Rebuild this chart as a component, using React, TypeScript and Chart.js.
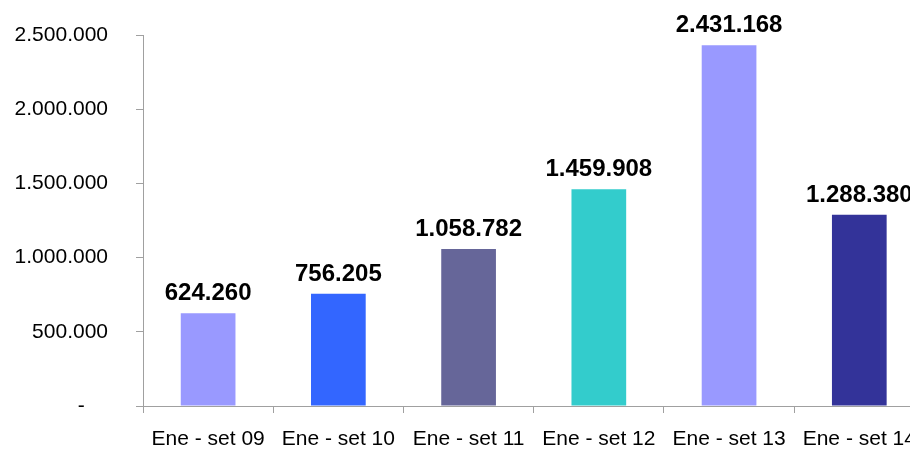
import React, { useEffect, useRef } from "react";
import { Chart, registerables } from "chart.js";

Chart.register(...registerables);

const categories = ["Ene - set 09", "Ene - set 10", "Ene - set 11", "Ene - set 12", "Ene - set 13", "Ene - set 14"];
const values = [624260, 756205, 1058782, 1459908, 2431168, 1288380];
const barColors = ["#9999FF", "#3366FF", "#666699", "#33CCCC", "#9999FF", "#333399"];
const yTicks = [0, 500000, 1000000, 1500000, 2000000, 2500000];

const W = 930;
const H = 449;
const FONT = "'Liberation Sans', Arial, sans-serif";
const AXIS_COLOR = "#a0a0a0";

function fmt(v: number): string {
  const s = Math.round(v).toString();
  return s.replace(/\B(?=(\d{3})+(?!\d))/g, ".");
}

const labelPlugin = {
  id: "barLabels",
  afterDatasetsDraw(chart: any) {
    const ctx = chart.ctx;
    const meta = chart.getDatasetMeta(0);
    ctx.save();
    ctx.font = `bold 24px ${FONT}`;
    ctx.fillStyle = "#000000";
    ctx.textAlign = "center";
    ctx.textBaseline = "alphabetic";
    meta.data.forEach((bar: any, i: number) => {
      ctx.fillText(fmt(values[i]), bar.x, bar.y - 13);
    });
    ctx.restore();
  },
};

export default function App() {
  const ref = useRef<HTMLCanvasElement | null>(null);

  useEffect(() => {
    if (!ref.current) return;
    const chart = new Chart(ref.current, {
      type: "bar",
      data: {
        labels: categories,
        datasets: [
          {
            data: values,
            backgroundColor: barColors,
            borderWidth: 0,
            barPercentage: 0.42,
            categoryPercentage: 1,
          },
        ],
      },
      options: {
        responsive: false,
        animation: false,
        devicePixelRatio: 1,
        layout: { padding: { top: 35, right: 1, left: 0, bottom: 0 } },
        plugins: {
          legend: { display: false },
          tooltip: { enabled: false },
        },
        scales: {
          x: {
            afterFit: (scale: any) => {
              scale.height = 43;
            },
            border: { display: true, color: AXIS_COLOR, width: 1 },
            grid: {
              drawOnChartArea: false,
              drawTicks: true,
              tickLength: 7,
              color: AXIS_COLOR,
              offset: true,
            },
            ticks: {
              color: "#000000",
              font: { family: FONT, size: 21 },
              padding: 14,
              maxRotation: 0,
              autoSkip: false,
            },
          },
          y: {
            min: 0,
            max: 2500000,
            afterFit: (scale: any) => {
              scale.width = 143;
              scale.paddingTop = 0;
              scale.paddingBottom = 0;
            },
            afterBuildTicks: (scale: any) => {
              scale.ticks = yTicks.map((v) => ({ value: v }));
            },
            border: { display: true, color: AXIS_COLOR, width: 1 },
            grid: {
              drawOnChartArea: false,
              drawTicks: true,
              tickLength: 7,
              color: AXIS_COLOR,
            },
            ticks: {
              color: "#000000",
              font: { family: FONT, size: 21 },
              padding: 28,
              callback: (v: any) => (Number(v) === 0 ? "-    " : fmt(Number(v))),
            },
          },
        },
      },
      plugins: [labelPlugin],
    });
    return () => chart.destroy();
  }, []);

  return (
    <div
      style={{
        position: "fixed",
        left: 0,
        top: 0,
        width: 910,
        height: 449,
        overflow: "hidden",
        background: "#ffffff",
      }}
    >
      <canvas ref={ref} width={W} height={H} style={{ display: "block", width: W, height: H }} />
    </div>
  );
}
